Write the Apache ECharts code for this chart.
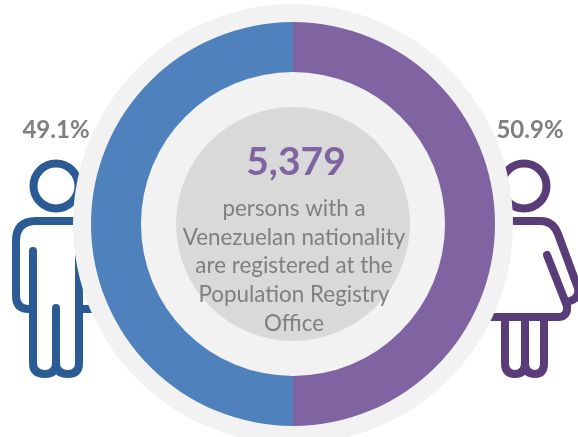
<!DOCTYPE html>
<html>
<head>
<meta charset="utf-8">
<style>
  html, body { margin: 0; padding: 0; background: #fff; }
  #chart { width: 578px; height: 437px; }
</style>
<script src="https://cdn.jsdelivr.net/npm/echarts@6/dist/echarts.min.js"></script>
</head>
<body>
<div id="chart"></div>
<script>
// the two halves are drawn level in the picture, the printed shares are separate
var genders = ['Male', 'Female'];
var ringValues = [50, 50];
var shareLabels = ['49.1%', '50.9%'];
var totalLabel = '5,379';
var captionLines = [
  'persons with a',
  'Venezuelan nationality',
  'are registered at the',
  'Population Registry',
  'Office'
];

var font = 'Lato, "Open Sans", sans-serif';
var center = [293, 224];

function icon(d, color) {
  return {
    type: 'path',
    shape: { pathData: d },
    style: { fill: null, stroke: color, lineWidth: 8, lineCap: 'round', lineJoin: 'round' }
  };
}

function head(cx, color) {
  return {
    type: 'circle',
    shape: { cx: cx, cy: 186, r: 22.5 },
    style: { fill: null, stroke: color, lineWidth: 8 }
  };
}

// people drawn under the rings
function drawPeople() {
  return {
    type: 'group',
    children: [
      head(56, '#2a5b94'),
      icon('M100 221 L36 221 Q16 221 16 241 L16 296 Q16 309 29 309 L33 309 M33 251 L33 363 Q33 374 45 374 Q56 374 56 363 L56 308 M56 363 Q56 374 68 374 Q79 374 79 363 L79 251 M79 309 L100 309', '#2a5b94'),
      head(524, '#5a3d78'),
      icon('M470 221 L541 221 Q553 221 558 234 L578 288 Q580 298 570 301 M547 255 L567 306 Q568 317 558 317 L470 317 M505 317 L505 363 Q505 374 515 374 Q525 374 525 363 L525 317 M525 363 Q525 374 535 374 Q544 374 544 363 L544 317', '#5a3d78')
    ]
  };
}

var graphics = [
  {
    type: 'text', z: 10, x: 56, y: 130,
    style: { text: shareLabels[0], font: 'bold 24px ' + font, fill: '#7f7f7f', textAlign: 'center', textVerticalAlign: 'middle' }
  },
  {
    type: 'text', z: 10, x: 530, y: 130,
    style: { text: shareLabels[1], font: 'bold 24px ' + font, fill: '#7f7f7f', textAlign: 'center', textVerticalAlign: 'middle' }
  },
  {
    type: 'text', z: 10, x: 296, y: 162,
    style: { text: totalLabel, font: 'bold 39px ' + font, fill: '#8064a2', textAlign: 'center', textVerticalAlign: 'middle' }
  }
];

captionLines.forEach(function (line, i) {
  graphics.push({
    type: 'text', z: 10,
    x: 294, y: 209 + i * 28.6,
    style: { text: line, font: '22.4px ' + font, fill: '#7f7f7f', textAlign: 'center', textVerticalAlign: 'middle' }
  });
});

var chart = echarts.init(document.getElementById('chart'));
chart.setOption({
  animation: false,
  backgroundColor: '#fff',
  graphic: graphics,
  series: [
    {
      type: 'custom', silent: true, z: 1, coordinateSystem: 'none',
      renderItem: drawPeople, data: [0]
    },
    {
      type: 'pie', silent: true, z: 2, center: center, radius: [0, 220],
      label: { show: false }, labelLine: { show: false },
      data: [{ value: 1, name: 'backdrop', itemStyle: { color: '#f2f2f2' } }]
    },
    {
      type: 'pie', silent: true, z: 3, center: center, radius: [0, 117],
      label: { show: false }, labelLine: { show: false },
      data: [{ value: 1, name: 'core', itemStyle: { color: '#d9d9d9' } }]
    },
    {
      type: 'pie', z: 4, center: center, radius: [152, 202], startAngle: 90, clockwise: false,
      label: { show: false }, labelLine: { show: false },
      data: [
        { value: ringValues[0], name: genders[0], itemStyle: { color: '#4f81bd' } },
        { value: ringValues[1], name: genders[1], itemStyle: { color: '#8064a2' } }
      ]
    }
  ]
});
</script>
</body>
</html>
